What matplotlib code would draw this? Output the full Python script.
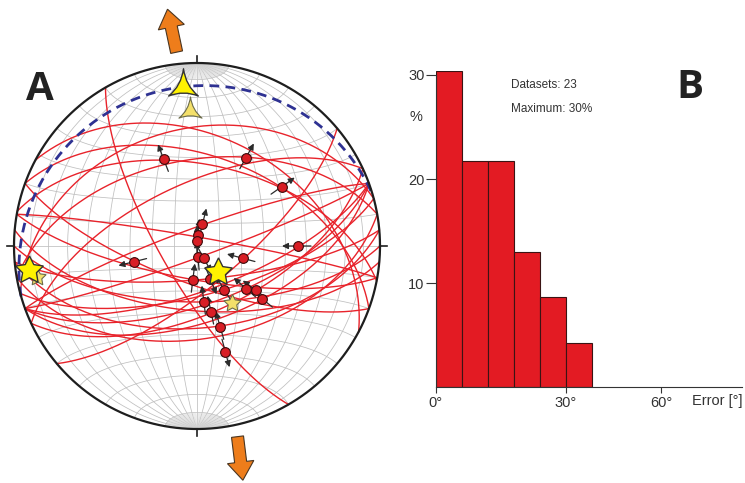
import numpy as np
import matplotlib
matplotlib.use('Agg')
import matplotlib.pyplot as plt
from matplotlib.path import Path
from matplotlib.patches import FancyArrow, FancyArrowPatch

# ---- stereonet data (lower hemisphere, Schmidt net) ----
# fault planes as dip direction / dip (deg)
plane_dipdir = [11, 350, 20, 340, 10, 160, 140, 160, 200, 190, 175, 165,
                160, 155, 160, 180, 185, 175, 240, 345, 28, 170, 335]
plane_dip = [53, 51, 49, 82, 86, 85, 72, 70, 73, 75, 75, 68,
             64, 60, 56, 65, 61, 53, 74, 36, 40, 48, 62]

# slip lineations: trend / plunge, sense +1 = arrow along trend, -1 = against
lin_trend = [339, 29, 55, 14, 5, 0, 175, 151, 105, 90, 256, 187, 158,
             148, 131, 127, 129, 173, 168, 164, 165]
lin_plunge = [48, 44, 43, 80, 85, 88, 85, 84, 69, 44, 61, 75, 74,
              67, 61, 57, 52, 65, 60, 52, 40]
lin_sense = [1, 1, 1, 1, 1, 1, -1, 1, -1, -1, 1, -1, 1,
             -1, -1, -1, -1, -1, -1, -1, 1]

# dashed great circle
dash_dipdir, dash_dip = 344, 14

# principal axes: stars (sigma1) and triangles (sigma3), big / pale
star_big_trend, star_big_plunge = [141, 262], [75, 8]
star_pale_trend, star_pale_plunge = [148, 259], [60, 12]
tri_big_trend, tri_big_plunge = [355], [14]
tri_pale_trend, tri_pale_plunge = [357], [27]

# extension arrows: position azimuth, pointing azimuth
ext_pos_az = [354, 168]
ext_dir_az = [348, 173]

# ---- histogram data ----
err_edges = [0, 6, 12, 18, 24, 30, 36]
err_pct = [30.4, 21.7, 21.7, 13.0, 8.7, 4.3]


def project(e, n, z):
    # equal-area projection of down-pointing unit vectors
    s = np.sqrt(1 + z)
    return e / s, n / s


def project_line(trend, plunge):
    t, p = np.radians(trend), np.radians(plunge)
    return project(np.cos(p) * np.sin(t), np.cos(p) * np.cos(t), np.sin(p))


def great_circle(dipdir, dip, n=300):
    dd, d = np.radians(dipdir), np.radians(dip)
    s = dd - np.pi / 2
    th = np.linspace(0, np.pi, n)
    e = np.cos(th) * np.sin(s) + np.sin(th) * np.cos(d) * np.sin(dd)
    nn = np.cos(th) * np.cos(s) + np.sin(th) * np.cos(d) * np.cos(dd)
    z = np.sin(th) * np.sin(d)
    return project(e, nn, np.clip(z, 0, 1))


def net_line(lam=None, phi=None, rng=(-90, 90)):
    t = np.radians(np.linspace(rng[0], rng[1], 200))
    if lam is not None:
        la, ph = np.radians(lam), t
    else:
        la, ph = t, np.radians(phi)
    e = np.cos(ph) * np.sin(la)
    n = np.sin(ph) * np.ones_like(la)
    z = np.cos(ph) * np.cos(la)
    return project(e, n, np.clip(z, 0, 1))


fig = plt.figure(figsize=(7.45, 4.83), dpi=100)

# stereonet axes, 183 px per unit, centre at (197, 246) px
R, cx, cy = 183.0, 197.0, 246.0
ax = fig.add_axes([0, 0, 400 / 745, 1])
ax.set_xlim(-cx / R, (400 - cx) / R)
ax.set_ylim((cy - 483) / R, cy / R)
ax.axis('off')

grid_kw = dict(color='#bfbfbf', lw=0.55, zorder=1)
for lam in range(-80, 81, 10):
    ax.plot(*net_line(lam=lam), **grid_kw)
for phi in range(-80, 81, 10):
    ax.plot(*net_line(phi=phi), **grid_kw)
fine_kw = dict(color='#d4d4d4', lw=0.3, zorder=1)
for lam in range(-88, 89, 2):
    if lam % 10 == 0:
        continue
    ax.plot(*net_line(lam=lam, rng=(80, 89)), **fine_kw)
    ax.plot(*net_line(lam=lam, rng=(-89, -80)), **fine_kw)

for dd, d in zip(plane_dipdir, plane_dip):
    ax.plot(*great_circle(dd, d), color='#e8232b', lw=1.0, zorder=2)

ax.plot(*great_circle(dash_dipdir, dash_dip), color='#2e3192', lw=2.0,
        ls=(0, (3.5, 2.3)), zorder=3)

# lineations with slip arrows
for t, p, s in zip(lin_trend, lin_plunge, lin_sense):
    x, y = project_line(t, p)
    ux, uy = s * np.sin(np.radians(t)), s * np.cos(np.radians(t))
    arr = FancyArrowPatch((x - 0.07 * ux, y - 0.07 * uy),
                          (x + 0.088 * ux, y + 0.088 * uy),
                          arrowstyle='-|>', mutation_scale=9, lw=0.9,
                          color='#2b2b2b', shrinkA=0, shrinkB=0, zorder=4)
    ax.add_patch(arr)
    ax.plot(x, y, 'o', ms=7, mfc='#d81e25', mec='#3a0a0a', mew=0.8, zorder=5)

# concave triangle marker
tv = [(0, 1.1), (0.13, 0.1), (0.87, -0.5), (0, -0.15), (-0.87, -0.5),
      (-0.13, 0.1), (0, 1.1), (0, 0)]
tc = [Path.MOVETO, Path.CURVE3, Path.CURVE3, Path.CURVE3, Path.CURVE3,
      Path.CURVE3, Path.CURVE3, Path.CLOSEPOLY]
tri_marker = Path(tv, tc)

x, y = project_line(np.array(star_pale_trend), np.array(star_pale_plunge))
ax.plot(x, y, ls='none', marker=(5, 1, 0), ms=13, mfc='#f4e06a', mec='#6b6b4a',
        mew=0.8, zorder=6)
x, y = project_line(np.array(star_big_trend), np.array(star_big_plunge))
ax.plot(x, y, ls='none', marker=(5, 1, 0), ms=21, mfc='#fff200', mec='#333333',
        mew=1.0, zorder=7)
x, y = project_line(np.array(tri_pale_trend), np.array(tri_pale_plunge))
ax.plot(x, y, ls='none', marker=tri_marker, ms=21, mfc='#f4e06a', mec='#6b6b4a',
        mew=0.8, zorder=6)
x, y = project_line(np.array(tri_big_trend), np.array(tri_big_plunge))
ax.plot(x, y, ls='none', marker=tri_marker, ms=27, mfc='#fff200', mec='#333333',
        mew=1.0, zorder=7)

# primitive circle and ticks
a = np.linspace(0, 2 * np.pi, 400)
ax.plot(np.cos(a), np.sin(a), color='#1e1e1e', lw=1.6, zorder=8)
for az in [0, 90, 180, 270]:
    r = np.radians(az)
    ax.plot([np.sin(r), 1.04 * np.sin(r)], [np.cos(r), 1.04 * np.cos(r)],
            color='#1e1e1e', lw=1.2, zorder=8)

# orange extension arrows
for pa, da in zip(ext_pos_az, ext_dir_az):
    p, d = np.radians(pa), np.radians(da)
    x0, y0 = 1.065 * np.sin(p), 1.065 * np.cos(p)
    ax.add_patch(FancyArrow(x0, y0, 0.24 * np.sin(d), 0.24 * np.cos(d),
                            width=0.066, head_width=0.145, head_length=0.1,
                            length_includes_head=True, fc='#ee7d1b',
                            ec='#4a3520', lw=0.8, zorder=9))

fig.text(40 / 745, 1 - 90 / 483, 'A', fontsize=29, fontweight='bold',
         family='Open Sans', color='#222222', ha='center', va='center')
fig.text(690 / 745, 1 - 87 / 483, 'B', fontsize=29, fontweight='bold',
         family='Open Sans', color='#222222', ha='center', va='center')

# ---- histogram ----
hx0, hy0 = 435.7, 387.3
pxd = 130 / 30.0
pxp = (387.3 - 75) / 30.0
hax = fig.add_axes([hx0 / 745, (483 - hy0) / 483, 306 / 745, 30.4 * pxp / 483])
hax.set_xlim(0, 306 / pxd)
hax.set_ylim(0, 30.4)
widths = np.diff(err_edges)
hax.bar(err_edges[:-1], err_pct, width=widths, align='edge', color='#e31b23',
        edgecolor='#3b1414', linewidth=0.8)
for side in ['top', 'right']:
    hax.spines[side].set_visible(False)
hax.spines['left'].set_bounds(0, 30)
hax.spines['left'].set_color('#333333')
hax.spines['bottom'].set_color('#333333')
hax.set_yticks([10, 20, 30])
hax.set_yticklabels(['10', '20', '30'])
hax.set_xticks([0, 30, 52])
hax.set_xticklabels(['0°', '30°', '60°'])
hax.tick_params(axis='y', length=7, width=0.8, colors='#333333', labelsize=10.5,
                pad=1)
hax.tick_params(axis='x', length=4, width=0.8, colors='#333333', labelsize=10.5,
                pad=2)
for lab in hax.get_xticklabels() + hax.get_yticklabels():
    lab.set_family('Liberation Sans')

fig.text(416 / 745, 1 - 117 / 483, '%', fontsize=10.5, family='Liberation Sans',
         color='#333333', ha='center', va='center')
fig.text(742 / 745, 1 - 401 / 483, 'Error [°]', fontsize=10.5,
         family='Liberation Sans', color='#333333', ha='right', va='center')
fig.text(511 / 745, 1 - 85 / 483, 'Datasets: 23', fontsize=8.5,
         family='Liberation Sans', color='#333333', ha='left', va='center')
fig.text(511 / 745, 1 - 109 / 483, 'Maximum: 30%', fontsize=8.5,
         family='Liberation Sans', color='#333333', ha='left', va='center')

fig.savefig('out.png', dpi=100)
